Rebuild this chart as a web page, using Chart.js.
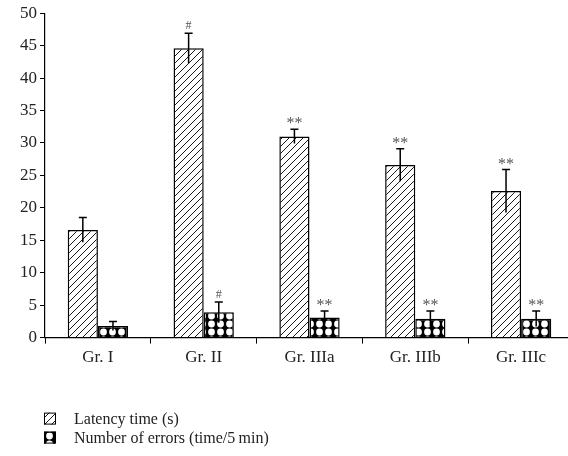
<!DOCTYPE html>
<html>
<head>
<meta charset="utf-8">
<script src="https://cdn.jsdelivr.net/npm/chart.js@4"></script>
<style>
  html, body { margin: 0; padding: 0; background: #fff; overflow: hidden; }
  #wrap { position: relative; width: 574px; height: 456px; }
</style>
</head>
<body>
<div id="wrap"><canvas id="groupChart"></canvas></div>
<script>
const groups = ["Gr. I", "Gr. II", "Gr. IIIa", "Gr. IIIb", "Gr. IIIc"];
const latency = [16.6, 44.6, 31.0, 26.6, 22.6];
const latencySd = [1.9, 2.3, 1.1, 2.5, 3.3];
const latencyMarks = ["", "#", "**", "**", "**"];
const errors = [1.8, 3.9, 3.1, 2.9, 2.9];
const errorsSd = [0.7, 1.6, 1.0, 1.2, 1.2];
const errorsMarks = ["", "#", "**", "**", "**"];
const yTicks = { min: 0, max: 50, step: 5 };

const serif = "'Liberation Serif', 'DejaVu Serif', serif";

function makePattern(w, h, paint) {
  const c = document.createElement("canvas");
  c.width = w;
  c.height = h;
  paint(c.getContext("2d"), w, h);
  return c.getContext("2d").createPattern(c, "repeat");
}

// diagonal hatch
const hatch = makePattern(7, 7, (g, w, h) => {
  g.fillStyle = "#fff";
  g.fillRect(0, 0, w, h);
  g.strokeStyle = "#000";
  g.lineWidth = 0.9;
  g.beginPath();
  g.moveTo(-1, h + 1); g.lineTo(w + 1, -1);
  g.moveTo(-1, 1); g.lineTo(1, -1);
  g.moveTo(w - 1, h + 1); g.lineTo(w + 1, h - 1);
  g.stroke();
});

// black with white dots
const dots = makePattern(9, 8, (g, w, h) => {
  g.fillStyle = "#000";
  g.fillRect(0, 0, w, h);
  g.fillStyle = "#fff";
  g.beginPath();
  g.arc(w / 2, h / 2, 3.4, 0, Math.PI * 2);
  g.fill();
});

const sdByDataset = [latencySd, errorsSd];
const marksByDataset = [latencyMarks, errorsMarks];

const errorBars = {
  id: "errorBars",
  afterDatasetsDraw(chart) {
    const ctx = chart.ctx;
    const y = chart.scales.y;
    chart.data.datasets.forEach((ds, di) => {
      const meta = chart.getDatasetMeta(di);
      meta.data.forEach((bar, i) => {
        const v = ds.data[i];
        const sd = sdByDataset[di][i];
        const top = y.getPixelForValue(v + sd);
        const bot = y.getPixelForValue(v - sd);
        ctx.save();
        ctx.strokeStyle = "#000";
        ctx.lineWidth = 1.5;
        ctx.beginPath();
        ctx.moveTo(bar.x, bot);
        ctx.lineTo(bar.x, top);
        ctx.moveTo(bar.x - 4, top);
        ctx.lineTo(bar.x + 4, top);
        ctx.stroke();
        const mark = marksByDataset[di][i];
        if (mark) {
          ctx.fillStyle = "#555";
          ctx.font = (mark === "#" ? "12px " : "16px ") + serif;
          ctx.textAlign = "center";
          ctx.textBaseline = "alphabetic";
          ctx.fillText(mark, bar.x, top - (mark === "#" ? 4 : 1));
        }
        ctx.restore();
      });
    });
  },
};

const sideLegend = {
  id: "sideLegend",
  afterDraw(chart) {
    const ctx = chart.ctx;
    const x0 = chart.chartArea.left - 1;
    let yy = chart.chartArea.bottom + 81;
    chart.data.datasets.forEach((ds) => {
      ctx.save();
      ctx.fillStyle = ds.backgroundColor;
      ctx.fillRect(x0, yy - 6, 12, 12);
      ctx.strokeStyle = "#000";
      ctx.lineWidth = 1;
      ctx.strokeRect(x0 + 0.5, yy - 5.5, 11, 11);
      ctx.fillStyle = "#222";
      ctx.font = "16px " + serif;
      ctx.textBaseline = "middle";
      ctx.fillText(ds.label, x0 + 30, yy + 1);
      ctx.restore();
      yy += 19;
    });
  },
};

new Chart(document.getElementById("groupChart"), {
  type: "bar",
  data: {
    labels: groups,
    datasets: [
      {
        label: "Latency time (s)",
        data: latency,
        backgroundColor: hatch,
        borderColor: "#000",
        borderWidth: 1.5,
        categoryPercentage: 0.57,
        barPercentage: 1.0,
      },
      {
        label: "Number of errors (time/5\u2009min)",
        data: errors,
        backgroundColor: dots,
        borderColor: "#000",
        borderWidth: 1.5,
        categoryPercentage: 0.57,
        barPercentage: 1.0,
      },
    ],
  },
  options: {
    responsive: true,
    maintainAspectRatio: false,
    animation: false,
    layout: { padding: { top: 10.5, left: 17, right: 0, bottom: 84 } },
    scales: {
      x: {
        grid: { display: true, drawOnChartArea: false, color: "#000", tickLength: 6, offset: true },
        border: { color: "#000", width: 1.2 },
        ticks: { color: "#222", font: { family: serif, size: 17 }, padding: 4 },
      },
      y: {
        min: yTicks.min,
        max: yTicks.max,
        grid: { display: true, drawOnChartArea: false, color: "#000", tickLength: 5 },
        border: { color: "#000", width: 1.2 },
        ticks: { stepSize: yTicks.step, color: "#222", font: { family: serif, size: 17 }, padding: 3 },
      },
    },
    plugins: {
      legend: { display: false },
      tooltip: { enabled: false },
    },
  },
  plugins: [errorBars, sideLegend],
});
</script>
</body>
</html>
